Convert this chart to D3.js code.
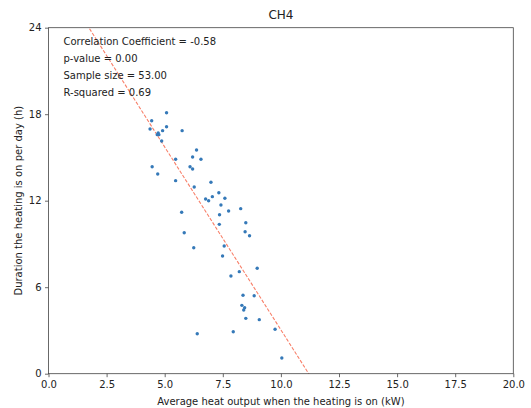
<!DOCTYPE html>
<html>
<head>
<meta charset="utf-8">
<script src="https://cdn.jsdelivr.net/npm/d3@7"></script>
<style>
  body { margin: 0; background: #fff; }
  text { font-family: "DejaVu Sans", sans-serif; fill: #222; }
</style>
</head>
<body>
<div id="chart"></div>
<script>
// data
const heatOutput = [5.08, 4.44, 5.08, 4.37, 4.91, 5.75, 4.72, 4.68, 4.75, 4.87,
    6.37, 6.20, 5.47, 6.56, 4.46, 6.09, 6.20, 4.70, 5.47, 6.99,
    6.27, 6.76, 6.89, 7.05, 7.33, 7.59, 7.42, 7.75, 8.27, 5.73,
    7.36, 7.35, 8.49, 8.46, 8.65, 5.84, 6.25, 7.56, 7.49, 8.98,
    8.21, 7.85, 8.37, 8.85, 8.32, 8.44, 8.40, 8.49, 9.07, 9.75,
    6.40, 7.95, 10.04]
const duration = [18.10, 17.55, 17.13, 16.97, 16.86, 16.86, 16.70, 16.58, 16.58, 16.14,
    15.52, 15.03, 14.87, 14.87, 14.36, 14.36, 14.20, 13.85, 13.39, 13.28,
    12.95, 12.12, 12.00, 12.28, 12.55, 12.17, 11.70, 11.29, 11.45, 11.20,
    11.03, 10.36, 10.47, 9.85, 9.57, 9.78, 8.74, 8.86, 8.16, 7.31,
    7.08, 6.78, 5.44, 5.41, 4.74, 4.58, 4.42, 3.84, 3.75, 3.08,
    2.77, 2.91, 1.09]

const xTicks = [0, 2.5, 5, 7.5, 10, 12.5, 15, 17.5, 20]
const yTicks = [0, 6, 12, 18, 24]

// fitted line shown in the reference
const slope = -2.537
const intercept = 28.41

const statsLines = [
    "Correlation Coefficient = -0.58",
    "p-value = 0.00",
    "Sample size = 53.00",
    "R-squared = 0.69"
]

const margin = {top: 27.7, right: 17.7, bottom: 34.3, left: 48.5}
const width = 531 - margin.left - margin.right
const height = 408 - margin.top - margin.bottom

const svg = d3.select("#chart").append("svg")
        .attr("width", 531)
        .attr("height", 408)
    .append("g")
        .attr("transform", `translate(${margin.left},${margin.top})`)

const xScale = d3.scaleLinear().domain([0, 20]).range([0, width])
const yScale = d3.scaleLinear().domain([0, 24]).range([height, 0])

svg.append("clipPath").attr("id", "plot-clip")
    .append("rect").attr("width", width).attr("height", height)

// regression line, clipped to the axes box
const lineData = [0, 20].map(x => ({x, y: intercept + slope * x}))
svg.append("path")
    .datum(lineData)
    .attr("clip-path", "url(#plot-clip)")
    .attr("fill", "none")
    .attr("stroke", "#f8806a")
    .attr("stroke-width", 1.1)
    .attr("stroke-dasharray", "3.5,1.6")
    .attr("d", d3.line().x(d => xScale(d.x)).y(d => yScale(d.y)))

// points
svg.append("g")
    .selectAll("circle")
    .data(heatOutput.map((x, i) => ({x, y: duration[i]})))
    .join("circle")
        .attr("cx", d => xScale(d.x))
        .attr("cy", d => yScale(d.y))
        .attr("r", 1.7)
        .attr("fill", "#3579b8")

// axes
const xAxis = d3.axisBottom(xScale).tickValues(xTicks).tickFormat(d3.format(".1f")).tickSizeOuter(0).tickSize(3.5).tickPadding(3.5)
const yAxis = d3.axisLeft(yScale).tickValues(yTicks).tickFormat(d3.format("d")).tickSizeOuter(0).tickSize(3.5).tickPadding(3.5)

const xGroup = svg.append("g").attr("transform", `translate(0,${height})`).call(xAxis)
const yGroup = svg.append("g").call(yAxis)

for (const g of [xGroup, yGroup]) {
    g.select(".domain").remove()
    g.selectAll("line").attr("stroke", "#444").attr("stroke-width", 0.8)
    g.selectAll("text").attr("font-size", 10).attr("fill", "#222")
        .style("font-family", "'DejaVu Sans', sans-serif")
}

// frame
svg.append("rect")
    .attr("width", width)
    .attr("height", height)
    .attr("fill", "none")
    .attr("stroke", "#444")
    .attr("stroke-width", 0.8)

// stats text
svg.append("g")
    .selectAll("text")
    .data(statsLines)
    .join("text")
        .attr("x", 15)
        .attr("y", (d, i) => 17 + i * 17)
        .attr("font-size", 10)
        .text(d => d)

// title and labels
svg.append("text")
    .attr("x", width / 2)
    .attr("y", -9)
    .attr("text-anchor", "middle")
    .attr("font-size", 12)
    .text("CH4")

svg.append("text")
    .attr("x", width / 2)
    .attr("y", height + 31)
    .attr("text-anchor", "middle")
    .attr("font-size", 10)
    .text("Average heat output when the heating is on (kW)")

svg.append("text")
    .attr("transform", `translate(${-27},${height / 2}) rotate(-90)`)
    .attr("text-anchor", "middle")
    .attr("font-size", 10)
    .text("Duration the heating is on per day (h)")
</script>
</body>
</html>
